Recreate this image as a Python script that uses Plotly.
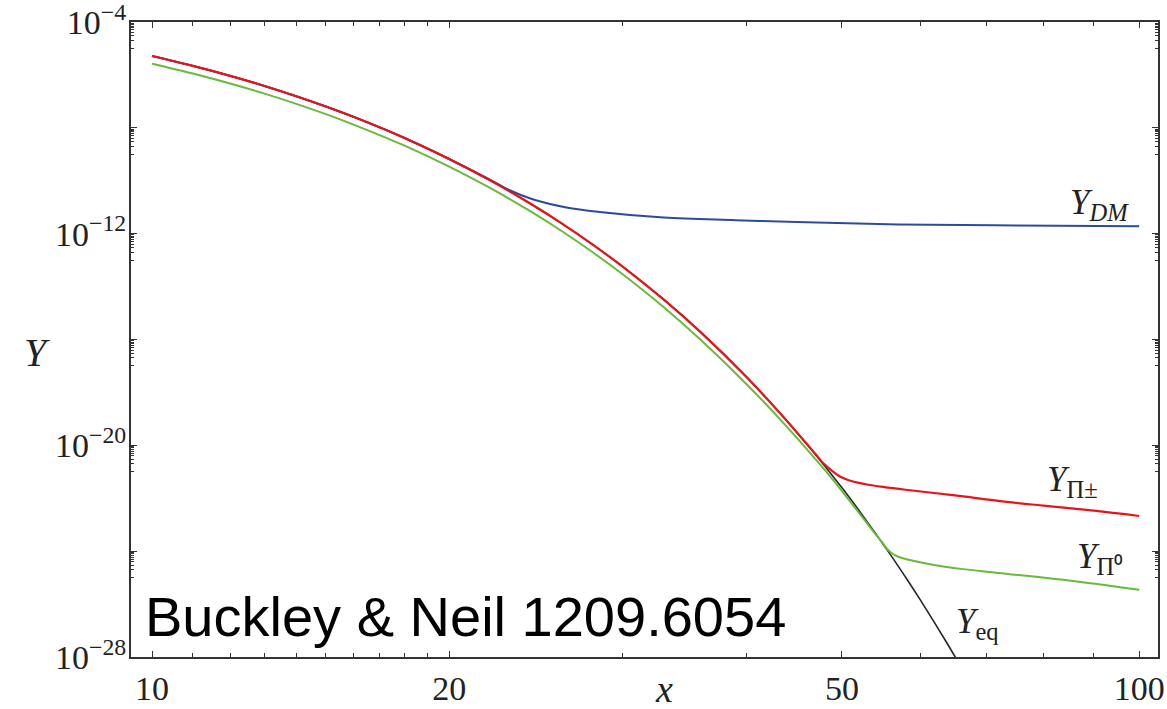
import plotly.graph_objects as go

# ---- data: abundance Y versus x = m / T ----
x_eq = [10, 11, 12, 13, 14, 15, 16, 18, 20, 22, 24, 26, 28, 30, 33, 36, 40, 44, 48, 50, 52, 56, 58,
        60, 62, 64, 66]
y_eq = [5.19e-6, 2.20e-6, 9.23e-7, 3.83e-7, 1.57e-7, 6.43e-8, 2.60e-8, 4.21e-9, 6.65e-10, 1.04e-10,
        1.60e-11, 2.45e-12, 3.71e-13, 5.56e-14, 3.19e-15, 1.81e-16, 3.88e-18, 8.20e-20, 1.71e-21,
        2.47e-22, 3.54e-23, 7.24e-25, 1.03e-25, 1.47e-26, 2.09e-27, 2.97e-28, 4.21e-29]

x_dm = [10, 11, 12, 13, 14, 15, 16, 18, 20, 22, 23, 24.3, 26.3, 28.4, 33, 39, 45, 57, 75, 100]
y_dm = [5.19e-6, 2.20e-6, 9.23e-7, 3.83e-7, 1.57e-7, 6.43e-8, 2.60e-8, 4.21e-9, 6.65e-10, 1.09e-10,
        4.47e-11, 2.00e-11, 9.77e-12, 6.61e-12, 4.07e-12, 3.24e-12, 2.75e-12, 2.24e-12, 2.04e-12, 1.91e-12]

x_pic = [10, 11, 12, 13, 14, 15, 16, 18, 20, 22, 24, 26, 28, 30, 33, 36, 40, 44, 46, 47, 48,
         49, 50, 51, 52, 53, 55, 58, 62, 67, 72, 80, 90, 100]
y_pic = [5.19e-6, 2.20e-6, 9.23e-7, 3.83e-7, 1.57e-7, 6.43e-8, 2.60e-8, 4.21e-9, 6.65e-10, 1.04e-10,
         1.60e-11, 2.45e-12, 3.71e-13, 5.56e-14, 3.19e-15, 1.81e-16, 3.88e-18, 8.20e-20, 1.19e-20,
         4.68e-21, 1.91e-21, 1.00e-21, 6.03e-22, 4.57e-22, 3.80e-22, 3.31e-22, 2.69e-22, 2.09e-22,
         1.58e-22, 1.12e-22, 7.94e-23, 5.25e-23, 3.39e-23, 2.14e-23]

x_pi0 = [10, 11, 12, 13, 14, 15, 16, 18, 20, 22, 24, 26, 28, 30, 33, 36, 40, 44, 48, 50, 52, 53,
         54, 55, 55.5, 56, 56.5, 57.3, 59, 62, 66, 72, 84.5, 100]
y_pi0 = [2.66e-6, 1.13e-6, 4.73e-7, 1.96e-7, 8.07e-8, 3.30e-8, 1.33e-8, 2.16e-9, 3.41e-10, 5.33e-11,
         8.22e-12, 1.26e-12, 1.90e-13, 2.85e-14, 1.64e-15, 9.29e-17, 2.09e-18, 4.90e-20, 1.20e-21,
         1.86e-22, 2.88e-23, 1.15e-23, 4.62e-24, 2.00e-24, 1.26e-24, 9.12e-25, 7.24e-25, 5.75e-25,
         4.37e-25, 3.02e-25, 2.14e-25, 1.51e-25, 7.94e-26, 3.47e-26]

x_ticks = [10, 20, 50, 100]
x_ticktext = ["10", "20", "50", "100"]
y_ticks = [1e-4, 1e-8, 1e-12, 1e-16, 1e-20, 1e-24, 1e-28]
y_ticktext = ["10<sup>\u22124</sup>", "", "10<sup>\u221212</sup>", "",
              "10<sup>\u221220</sup>", "", "10<sup>\u221228</sup>"]

# minor ticks: 11..19, 30, 40, 60..90 on x; a decade of ticks below each major y tick
x_minor = [11, 12, 13, 14, 15, 16, 17, 18, 19, 30, 40, 60, 70, 80, 90]
y_minor = []
for e in range(-4, -28, -4):
    for m in range(1, 10):
        y_minor.append(m * 10.0 ** (e - 1))

SERIF = "Liberation Serif"
AXIS = "#333333"
TXT = "#222222"

fig = go.Figure()
fig.add_trace(go.Scatter(x=x_eq, y=y_eq, mode="lines",
                         line=dict(color="#262626", width=1.6, shape="spline", smoothing=1)))
fig.add_trace(go.Scatter(x=x_dm, y=y_dm, mode="lines",
                         line=dict(color="#2b4c9c", width=2, shape="spline", smoothing=1)))
fig.add_trace(go.Scatter(x=x_pi0, y=y_pi0, mode="lines",
                         line=dict(color="#66bb3c", width=2, shape="spline", smoothing=1)))
fig.add_trace(go.Scatter(x=x_pic, y=y_pic, mode="lines",
                         line=dict(color="#e8141b", width=2.2, shape="spline", smoothing=1)))

axis_common = dict(
    type="log", showgrid=False, zeroline=False, automargin=False,
    showline=True, linewidth=2, linecolor=AXIS, mirror="allticks",
    ticks="inside", ticklen=6, tickwidth=1.2, tickcolor=AXIS,
    ticklabeloverflow="allow",
    tickfont=dict(family=SERIF, size=34, color=TXT),
)

fig.update_layout(
    width=1167, height=709,
    margin=dict(l=131, r=9, t=22, b=52),
    paper_bgcolor="white", plot_bgcolor="white",
    showlegend=False,
    xaxis=dict(axis_common, range=[0.97872, 2.0191], tickmode="array",
               tickvals=x_ticks, ticktext=x_ticktext,
               minor=dict(tickvals=x_minor, ticks="inside", ticklen=4,
                          tickwidth=1.2, tickcolor=AXIS, showgrid=False)),
    yaxis=dict(axis_common, range=[-28, -4], tickmode="array",
               tickvals=y_ticks, ticktext=y_ticktext, ticklabelstandoff=-4,
               minor=dict(tickvals=y_minor, ticks="inside", ticklen=3,
                          tickwidth=1, tickcolor=AXIS, showgrid=False)),
)

label_font = dict(family=SERIF, size=35, color=TXT)
annotations = [
    dict(text="<i>Y</i>", x=-0.0915, y=0.479, font=dict(family=SERIF, size=40, color=TXT)),
    dict(text="<i>x</i>", x=0.519, y=-0.050, font=dict(family=SERIF, size=38, color=TXT)),
    dict(text="<i>Y</i><sub><i>DM</i></sub>", x=0.9435, y=0.712, font=label_font),
    dict(text="<i>Y</i><sub>\u03a0\u00b1</sub>", x=0.917, y=0.276, font=label_font),
    dict(text="<i>Y</i><sub>\u03a0\u2070</sub>", x=0.9435, y=0.155, font=label_font),
    dict(text="<i>Y</i><sub>eq</sub>", x=0.824, y=0.052, font=label_font),
]
for a in annotations:
    fig.add_annotation(xref="paper", yref="paper", showarrow=False,
                       xanchor="center", yanchor="middle", **a)

fig.add_annotation(text="Buckley &amp; Neil 1209.6054", xref="paper", yref="paper",
                   x=0.0117, y=0.063, xanchor="left", yanchor="middle", showarrow=False,
                   font=dict(family="Liberation Sans", size=56, color="black"))

fig.write_html("out.html")
